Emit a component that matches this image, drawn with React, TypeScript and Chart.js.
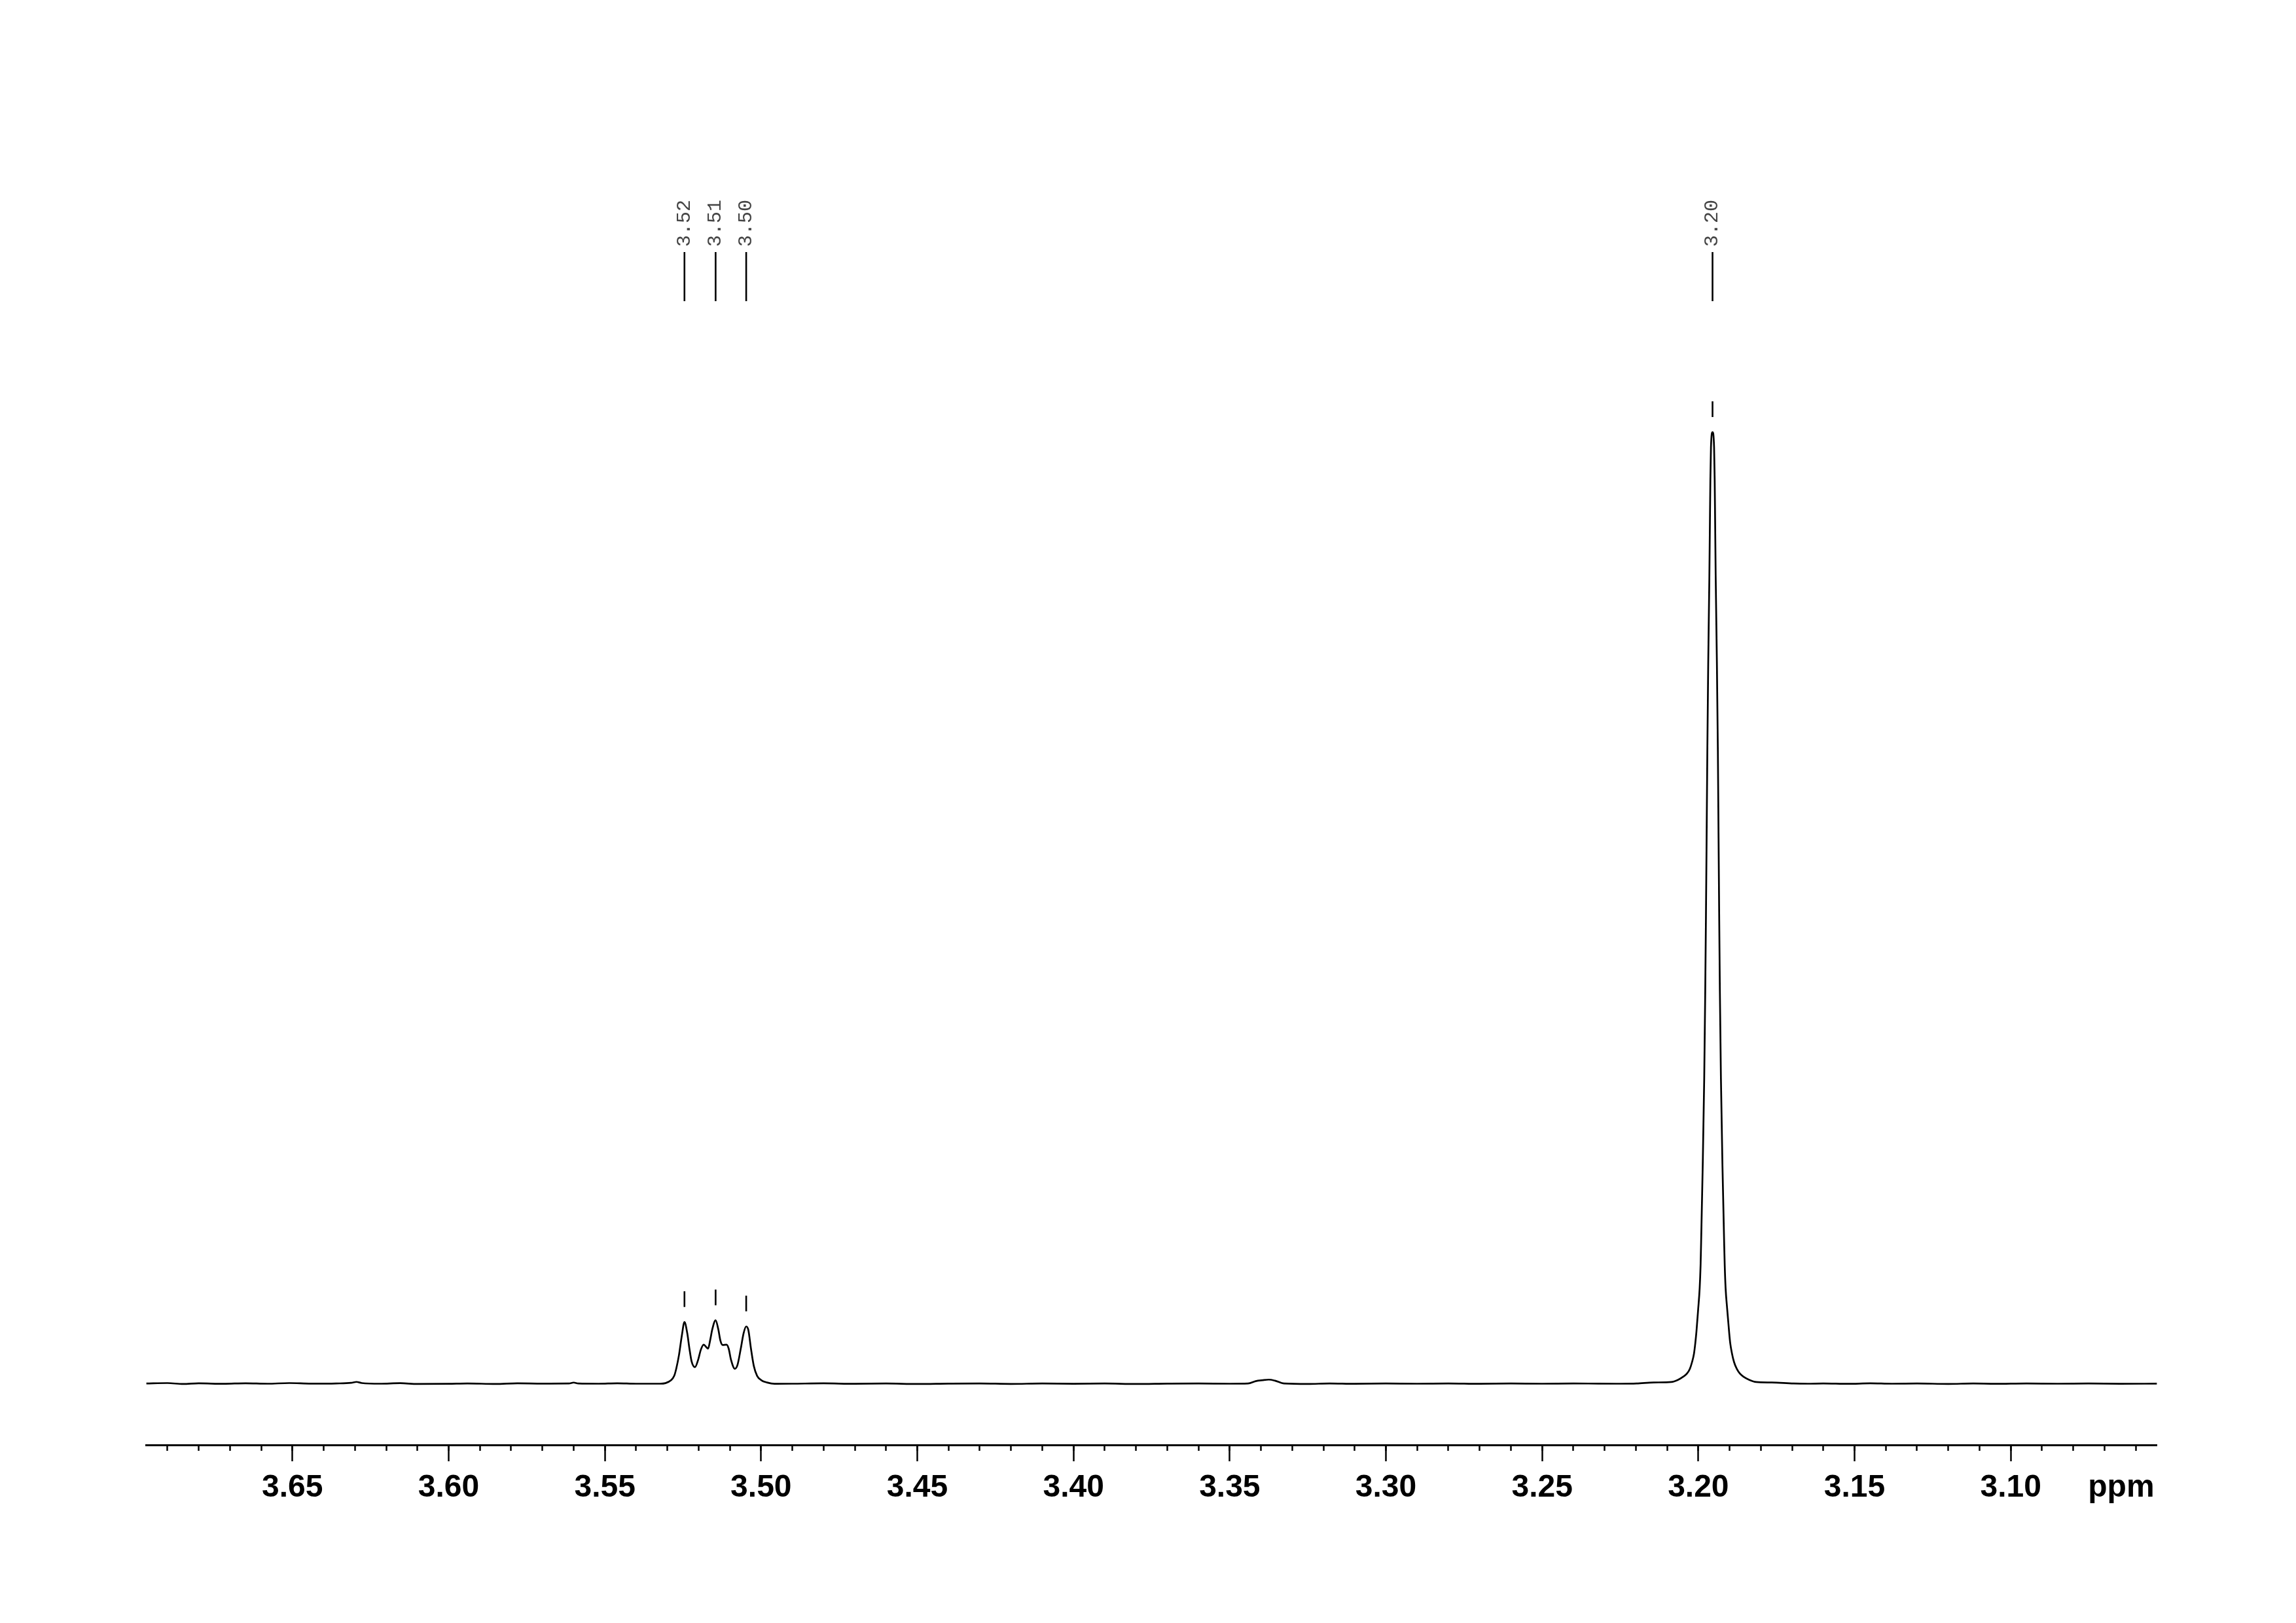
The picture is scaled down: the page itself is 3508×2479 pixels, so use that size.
import React, { useEffect, useRef } from 'react';
import { Chart, registerables } from 'chart.js';

Chart.register(...registerables);

// ---- axis range (ppm, reversed) ----
const PPM_LEFT = 3.6968;
const PPM_RIGHT = 3.0532;
const Y_MIN = -6.4;
const Y_MAX = 110;

// ---- tick labels ----
const majorTicks = [3.65, 3.6, 3.55, 3.5, 3.45, 3.4, 3.35, 3.3, 3.25, 3.2, 3.15, 3.1];
const minorStep = 0.01;
const axisUnit = 'ppm';

// ---- peak picking labels ----
const peakLabelText = ['3.52', '3.51', '3.50', '3.20'];
const peakLabelPpm = [3.52452, 3.51455, 3.50476, 3.19546];

// ---- spectrum ----
const baselineLeftPpm = [3.6968, 3.69, 3.685, 3.68, 3.672, 3.665, 3.658, 3.651, 3.644, 3.636, 3.6312, 3.6295, 3.6278, 3.622, 3.6155, 3.61, 3.6, 3.594, 3.585, 3.578, 3.57, 3.5615, 3.56, 3.5585, 3.552, 3.546, 3.54];
const baselineLeftInt = [0.05, 0.1, 0.0, 0.07, 0.02, 0.08, 0.03, 0.1, 0.04, 0.06, 0.12, 0.22, 0.1, 0.03, 0.09, 0.0, 0.02, 0.06, 0.0, 0.07, 0.04, 0.05, 0.15, 0.05, 0.03, 0.08, 0.03];

const multipletPpm = [3.53235, 3.53059, 3.52885, 3.52781, 3.52712, 3.52628, 3.52536, 3.52452, 3.52362, 3.52293, 3.52221, 3.52117, 3.52012, 3.51928, 3.51838, 3.51769, 3.51697, 3.51628, 3.51559, 3.51455, 3.51371, 3.51299, 3.5123, 3.51105, 3.51036, 3.50964, 3.50839, 3.50755, 3.5065, 3.5056, 3.50476, 3.50407, 3.50323, 3.50231, 3.50126, 3.49988, 3.49812, 3.49569];
const multipletInt = [0.03, 0.09, 0.39, 0.85, 1.65, 3.03, 5.09, 6.51, 5.32, 3.71, 2.34, 1.77, 2.57, 3.6, 4.13, 3.94, 3.71, 4.63, 5.78, 6.69, 5.78, 4.52, 4.1, 4.13, 3.71, 2.57, 1.6, 2.0, 3.71, 5.32, 6.05, 5.66, 3.71, 1.88, 0.85, 0.39, 0.16, 0.02];

const baselineMidPpm = [3.49, 3.48, 3.47, 3.46, 3.45, 3.44, 3.43, 3.42, 3.41, 3.4, 3.39, 3.38, 3.37, 3.36, 3.35, 3.3441, 3.3417, 3.3395, 3.3375, 3.3355, 3.3326, 3.325, 3.318, 3.31, 3.3, 3.29, 3.28, 3.27, 3.26, 3.25, 3.24, 3.232];
const baselineMidInt = [0.03, 0.07, 0.02, 0.05, 0.0, 0.04, 0.06, 0.01, 0.05, 0.02, 0.05, 0.0, 0.04, 0.06, 0.03, 0.05, 0.3, 0.4, 0.46, 0.35, 0.05, 0.0, 0.06, 0.02, 0.05, 0.03, 0.06, 0.02, 0.05, 0.03, 0.06, 0.04];

const mainPeakPpm = [3.225, 3.21976, 3.21432, 3.20866, 3.20656, 3.2048, 3.20363, 3.20271, 3.20202, 3.20139, 3.20097, 3.20061, 3.20007, 3.19957, 3.19929, 3.19913, 3.1986, 3.19812, 3.19779, 3.19756, 3.19735, 3.19712, 3.19684, 3.19647, 3.1963, 3.19615, 3.19596, 3.19546, 3.19496, 3.19477, 3.19462, 3.19445, 3.19406, 3.19375, 3.19353, 3.19333, 3.19311, 3.19277, 3.19228, 3.19172, 3.19155, 3.19128, 3.19075, 3.19016, 3.1898, 3.18923, 3.18857, 3.18771, 3.18672, 3.18561, 3.18366, 3.1815, 3.17652, 3.16954];
const mainPeakInt = [0.03, 0.05, 0.16, 0.21, 0.43, 0.78, 1.1, 1.6, 2.3, 3.2, 4.3, 5.5, 7.8, 10.1, 12.4, 14.6, 22.9, 32.1, 41.3, 49.3, 57.4, 66.5, 75.7, 84.9, 90.4, 95.0, 98.4, 100, 98.4, 95.0, 90.4, 84.9, 75.7, 66.5, 57.4, 49.3, 41.3, 32.1, 22.9, 14.6, 12.4, 10.1, 7.8, 5.5, 4.3, 3.2, 2.3, 1.6, 1.1, 0.78, 0.43, 0.21, 0.16, 0.05];

const baselineRightPpm = [3.165, 3.16, 3.152, 3.145, 3.138, 3.13, 3.12, 3.112, 3.105, 3.095, 3.085, 3.075, 3.065, 3.0532];
const baselineRightInt = [0.03, 0.06, 0.02, 0.07, 0.03, 0.05, 0.01, 0.05, 0.02, 0.06, 0.03, 0.05, 0.02, 0.04];

const W = 3508;
const H = 2479;

const segmentsPpm = [baselineLeftPpm, multipletPpm, baselineMidPpm, mainPeakPpm, baselineRightPpm];
const segmentsInt = [baselineLeftInt, multipletInt, baselineMidInt, mainPeakInt, baselineRightInt];

function buildPoints() {
  const pts: { x: number; y: number }[] = [];
  segmentsPpm.forEach((seg, s) => {
    seg.forEach((p, i) => pts.push({ x: p, y: segmentsInt[s][i] }));
  });
  return pts;
}

const TICK_LEN = 25;
const TICK_PAD = 12;
const TICK_FONT = 48;

const peakLabelPlugin = {
  id: 'peakLabels',
  afterDatasetsDraw(chart: any) {
    const { ctx } = chart;
    const xs = chart.scales.x;
    const ys = chart.scales.y;
    const pts = chart.data.datasets[0].data as { x: number; y: number }[];
    ctx.save();
    ctx.strokeStyle = '#000';
    ctx.lineWidth = 2.6;
    ctx.lineCap = 'butt';
    peakLabelPpm.forEach((p, i) => {
      const px = xs.getPixelForValue(p);
      ctx.beginPath();
      ctx.moveTo(px, 385);
      ctx.lineTo(px, 460);
      ctx.stroke();
      ctx.save();
      ctx.translate(px, 377);
      ctx.rotate(-Math.PI / 2);
      ctx.font = '30px "Liberation Mono"';
      ctx.fillStyle = '#444';
      ctx.textAlign = 'left';
      ctx.textBaseline = 'middle';
      ctx.fillText(peakLabelText[i], 0, 0);
      ctx.restore();
      let h = 0;
      pts.forEach((q) => {
        if (Math.abs(q.x - p) < 0.0003 && q.y > h) h = q.y;
      });
      const py = ys.getPixelForValue(h);
      ctx.beginPath();
      ctx.moveTo(px, py - 47);
      ctx.lineTo(px, py - 23);
      ctx.stroke();
    });
    ctx.font = `bold ${TICK_FONT}px "Liberation Sans"`;
    ctx.fillStyle = '#000';
    ctx.textAlign = 'right';
    ctx.textBaseline = 'middle';
    ctx.fillText(axisUnit, xs.right - 4, xs.top + TICK_LEN + TICK_PAD + (TICK_FONT * 1.2) / 2);
    ctx.restore();
  },
};

export default function App() {
  const ref = useRef<HTMLCanvasElement>(null);
  useEffect(() => {
    if (!ref.current) return;
    const chart = new Chart(ref.current, {
      type: 'line',
      data: {
        datasets: [
          {
            data: buildPoints(),
            borderColor: '#000',
            borderWidth: 2.7,
            pointRadius: 0,
            fill: false,
            cubicInterpolationMode: 'monotone',
            borderJoinStyle: 'round',
          } as any,
        ],
      },
      options: {
        responsive: false,
        devicePixelRatio: 1,
        animation: false,
        events: [],
        layout: { padding: { top: 514.6, left: 223.4, right: 212.4, bottom: 0 } },
        plugins: { legend: { display: false }, tooltip: { enabled: false } },
        scales: {
          x: {
            type: 'linear',
            position: 'bottom',
            reverse: true,
            min: PPM_RIGHT,
            max: PPM_LEFT,
            grid: { display: true, drawOnChartArea: false, drawTicks: true, tickLength: TICK_LEN, tickWidth: 2.5, tickColor: '#000' },
            border: { display: true, color: '#000', width: 3 },
            ticks: {
              autoSkip: false,
              maxRotation: 0,
              minRotation: 0,
              padding: TICK_PAD,
              color: '#000',
              font: { family: 'Liberation Sans', size: TICK_FONT, weight: 'bold' },
              callback: (v: any) => Number(v).toFixed(2),
            },
            afterBuildTicks: (scale: any) => {
              scale.ticks = majorTicks.map((v) => ({ value: v }));
            },
            afterFit: (scale: any) => {
              scale.height = H - 2207;
            },
          } as any,
          x2: {
            type: 'linear',
            axis: 'x',
            position: { y: Y_MIN },
            reverse: true,
            min: PPM_RIGHT,
            max: PPM_LEFT,
            grid: { display: true, drawOnChartArea: false, drawTicks: true, tickLength: 9, tickWidth: 2.5, tickColor: '#000' },
            border: { display: false },
            ticks: { display: false, stepSize: minorStep, includeBounds: false, autoSkip: false },
          } as any,
          y: {
            type: 'linear',
            display: false,
            min: Y_MIN,
            max: Y_MAX,
          },
        },
      },
      plugins: [peakLabelPlugin],
    });
    return () => chart.destroy();
  }, []);
  return (
    <div style={{ position: 'fixed', left: 0, top: 0, width: W, height: H, background: '#fff' }}>
      <canvas ref={ref} width={W} height={H} style={{ display: 'block', width: W, height: H }} />
    </div>
  );
}
